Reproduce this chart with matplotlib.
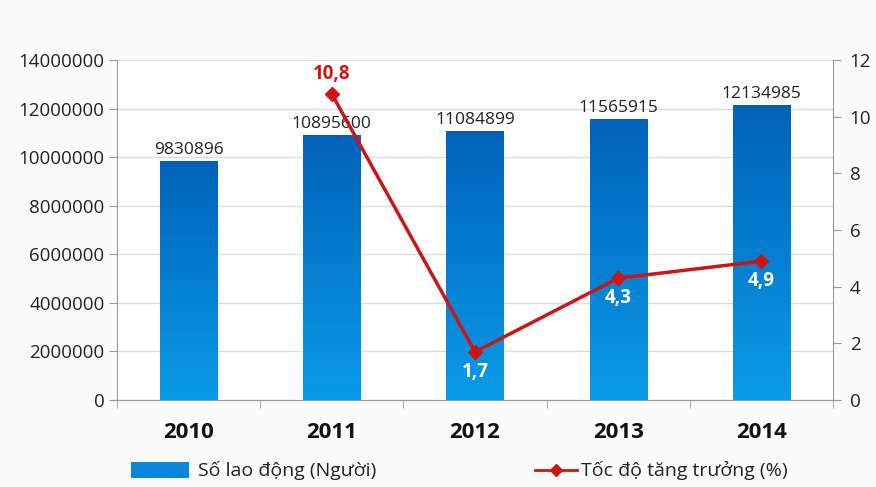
import matplotlib
matplotlib.use("Agg")
import matplotlib.pyplot as plt
import numpy as np
from matplotlib.lines import Line2D
from matplotlib.patches import Rectangle

years = ["2010", "2011", "2012", "2013", "2014"]
workers = [9830896, 10895600, 11084899, 11565915, 12134985]
growth = [None, 10.8, 1.7, 4.3, 4.9]
growth_labels = ["", "10,8", "1,7", "4,3", "4,9"]

plt.rcParams["font.family"] = ["Open Sans", "DejaVu Sans"]

fig = plt.figure(figsize=(8.76, 4.87), dpi=100)
fig.patch.set_facecolor("#fbfbfb")
ax = fig.add_axes([117 / 876, 1 - 400 / 487, (833 - 117) / 876, 340 / 487])
ax.set_facecolor("white")

x = np.arange(len(years))
bar_w = 0.4
bars = ax.bar(x, workers, width=bar_w, color="none", edgecolor="none", zorder=2)

# vertical gradient fill for each bar
grad = np.linspace(0, 1, 256).reshape(-1, 1)
cmap = matplotlib.colors.LinearSegmentedColormap.from_list(
    "bluegrad", ["#0a9be8", "#0062b9"])
for b in bars:
    x0, y0 = b.get_x(), b.get_y()
    w, h = b.get_width(), b.get_height()
    im = ax.imshow(grad, extent=[x0, x0 + w, y0, y0 + h], origin="lower",
                   cmap=cmap, aspect="auto", zorder=2)
    im.set_clip_path(b)

ax.set_xlim(-0.5, len(years) - 0.5)
ax.set_ylim(0, 14000000)
ax.set_yticks(np.arange(0, 14000001, 2000000))
ax.set_yticklabels([str(v) for v in range(0, 14000001, 2000000)])
ax.yaxis.grid(True, color="#dcdcdc", linewidth=1, zorder=0)
ax.set_axisbelow(True)

for s in ["top", "right"]:
    ax.spines[s].set_visible(False)
ax.spines["left"].set_color("#9a9a9a")
ax.spines["bottom"].set_color("#9a9a9a")

ax.set_xticks(x)
ax.set_xticklabels(years, fontsize=16, fontweight="bold", color="#111111")
ax.tick_params(axis="x", length=0, pad=16)
ax.set_xticks(np.arange(-0.5, len(years), 1), minor=True)
ax.tick_params(axis="x", which="minor", length=6, color="#9a9a9a", direction="out")
ax.tick_params(axis="y", length=6, color="#9a9a9a", labelsize=13.5,
               labelcolor="#222222", pad=3)

for xi, v in zip(x, workers):
    ax.text(xi, v + 120000, str(v), ha="center", va="bottom",
            fontsize=12.5, color="#222222", zorder=5)

ax2 = ax.twinx()
ax2.set_ylim(0, 12)
ax2.set_yticks(np.arange(0, 13, 2))
for s in ["top", "left", "bottom"]:
    ax2.spines[s].set_visible(False)
ax2.spines["right"].set_color("#9a9a9a")
ax2.tick_params(axis="y", length=6, color="#9a9a9a", labelsize=13.5,
                labelcolor="#222222", pad=6)

gx = [xi for xi, g in zip(x, growth) if g is not None]
gy = [g for g in growth if g is not None]
ax2.plot(gx, gy, color="#cc1515", linewidth=2.5, marker="D", markersize=7,
         markerfacecolor="#cc1515", markeredgecolor="#cc1515", zorder=6)

for xi, g, lab in zip(x, growth, growth_labels):
    if g is None:
        continue
    if xi == 1:
        ax2.text(xi, g + 0.35, lab, ha="center", va="bottom", fontsize=13.5,
                 fontweight="bold", color="#cc1515", zorder=7)
    else:
        ax2.text(xi, g - 0.35, lab, ha="center", va="top", fontsize=13.5,
                 fontweight="bold", color="white", zorder=7)

# legend row under the chart
fig.patches.append(Rectangle((131 / 876, 1 - 478 / 487), 58 / 876, 16 / 487,
                             transform=fig.transFigure, facecolor="#0a86da",
                             edgecolor="none"))
fig.text(198 / 876, 1 - 470 / 487, "Số lao động (Người)", fontsize=14,
         color="#222222", va="center", ha="left")
fig.lines.append(Line2D([535 / 876, 577 / 876], [1 - 470 / 487, 1 - 470 / 487],
                        transform=fig.transFigure, color="#cc1515", linewidth=2))
fig.lines.append(Line2D([556 / 876], [1 - 470 / 487], transform=fig.transFigure,
                        color="#cc1515", marker="D", markersize=6, linestyle="none"))
fig.text(581 / 876, 1 - 470 / 487, "Tốc độ tăng trưởng (%)", fontsize=14,
         color="#222222", va="center", ha="left")

fig.savefig("out.png", dpi=100, facecolor=fig.get_facecolor())
